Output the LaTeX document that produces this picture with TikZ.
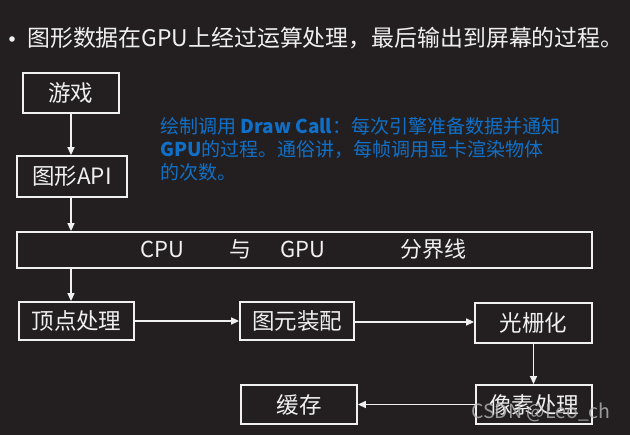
\documentclass[tikz,border=0pt]{standalone}
\usepackage{fontspec}
\setmainfont{Noto Sans CJK SC}
\usetikzlibrary{arrows.meta}
\definecolor{bg}{HTML}{231F20}
\definecolor{fg}{HTML}{F0F0F0}
\definecolor{note}{HTML}{1070C8}
\definecolor{wm}{HTML}{B8B8B8}
\tikzset{
  stepbox/.style={draw=fg, line width=1.8pt, text=fg, inner sep=0pt, font=\fontsize{22.5}{24}\selectfont},
  conn/.style={draw=fg, line width=1.4pt, -{Triangle[length=8pt,width=7pt]}},
  notetext/.style={text=note, anchor=west, inner sep=0pt, font=\fontsize{19}{22}\selectfont},
  sep/.style={text=fg, inner sep=0pt, font=\fontsize{22}{24}\selectfont}
}
\begin{document}
\begin{tikzpicture}[x=1pt,y=-1pt]
\fill[bg] (0,0) rectangle (630,435);
\useasboundingbox (0,0) rectangle (630,435);
% title
\fill[fg] (12,39) circle (2.8);
\node[text=fg, anchor=west, inner sep=0pt, font=\fontsize{22.9}{26}\selectfont] (title) at (27,38) {图形数据在GPU上经过运算处理，最后输出到屏幕的过程。};
% boxes
\node[stepbox, minimum width=96pt, minimum height=40pt] (game) at (71,93) {游戏};
\node[stepbox, minimum width=110pt, minimum height=41pt] (api) at (72,176.5) {图形API};
\node[stepbox, minimum width=575pt, minimum height=36pt] (cpu) at (304.5,250) {};
\node[sep] (tcpu) at (162,249) {CPU};
\node[sep] (tyu) at (240,249) {与};
\node[sep] (tgpu) at (303,249) {GPU};
\node[sep] (tfen) at (433,249) {分界线};
\node[stepbox, minimum width=115pt, minimum height=38pt] (vert) at (76.5,321) {顶点处理};
\node[stepbox, minimum width=114pt, minimum height=38pt] (prim) at (297,321) {图元装配};
\node[stepbox, minimum width=117pt, minimum height=40pt] (rast) at (533.5,323) {光栅化};
\node[stepbox, minimum width=116pt, minimum height=39pt] (pix) at (534,404.5) {像素处理};
\node[stepbox, minimum width=116pt, minimum height=39pt] (cache) at (299,404.5) {缓存};
% note
\node[notetext] (n1) at (160,126) {绘制调用 \textbf{Draw Call}：每次引擎准备数据并通知};
\node[notetext] (n2) at (160,149) {\textbf{GPU}的过程。通俗讲，每帧调用显卡渲染物体};
\node[notetext] (n3) at (160,172) {的次数。};
% connectors
\draw[conn] (game.south -| api.south) ++(-1,0) coordinate (g0) -- (g0 |- api.north);
\draw[conn] (api.south) ++(-1,0) coordinate (a0) -- (a0 |- cpu.north);
\draw[conn] (a0 |- cpu.south) coordinate (c0) -- (c0 |- vert.north);
\draw[conn] (vert.east) -- (prim.west);
\draw[conn] (prim.east) ++(0,1) coordinate (p0) -- (p0 -| rast.west);
\draw[conn] (rast.south) -- (rast.south |- pix.north);
\draw[conn] (pix.west) -- (cache.east);
% watermark
\node[text=wm, opacity=0.8, anchor=west, inner sep=0pt, font=\fontsize{19.5}{20}\selectfont] (wmark) at (471,412) {CSDN @Leo\_ch};
\end{tikzpicture}
\end{document}
